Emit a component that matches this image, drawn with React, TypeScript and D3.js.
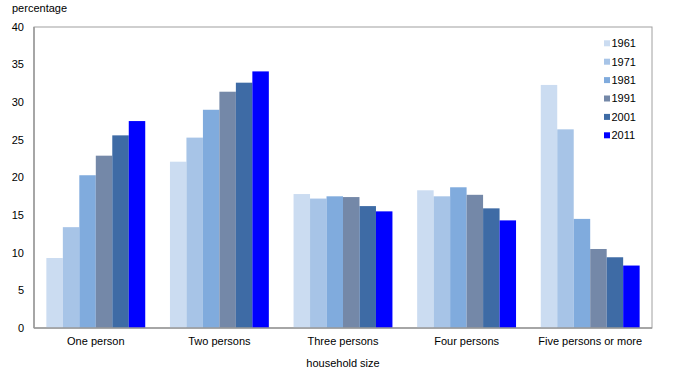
import React from "react";
import * as d3 from "d3";

const categories = ["One person", "Two persons", "Three persons", "Four persons", "Five persons or more"];
const years = ["1961", "1971", "1981", "1991", "2001", "2011"];
const v1961 = [9.3, 22.1, 17.8, 18.3, 32.3];
const v1971 = [13.4, 25.3, 17.2, 17.5, 26.4];
const v1981 = [20.3, 29.0, 17.5, 18.7, 14.5];
const v1991 = [22.9, 31.4, 17.4, 17.7, 10.5];
const v2001 = [25.6, 32.6, 16.2, 15.9, 9.4];
const v2011 = [27.5, 34.1, 15.5, 14.3, 8.3];
const seriesValues = [v1961, v1971, v1981, v1991, v2001, v2011];
const colors = ["#cbdcf1", "#a7c4e7", "#80abdd", "#7488a8", "#3e6ba5", "#0000ff"];
const yTicks = [0, 5, 10, 15, 20, 25, 30, 35, 40];

export default function App() {
  const W = 675, H = 376;
  const left = 34, right = 652, top = 27, bottom = 328;
  const x0 = d3.scaleBand<string>().domain(categories).range([left, right]).paddingInner(0.2).paddingOuter(0.1);
  const x1 = d3.scaleBand<string>().domain(years).range([0, x0.bandwidth()]);
  const y = d3.scaleLinear().domain([0, 40]).range([bottom, top]);
  const font = "'Liberation Sans', Arial, sans-serif";
  return (
    <svg width={W} height={H} style={{ position: "absolute", left: 0, top: 0 }} fontFamily={font}>
      <rect x={0} y={0} width={W} height={H} fill="#fff" />
      <rect x={left} y={top} width={right - left} height={bottom - top} fill="none" stroke="#a0a0a0" strokeWidth={1} />
      {categories.map((c, ci) =>
        years.map((yr, si) => {
          const v = seriesValues[si][ci];
          return (
            <rect key={c + yr} x={(x0(c) ?? 0) + (x1(yr) ?? 0)} y={y(v)} width={x1.bandwidth()} height={bottom - y(v)} fill={colors[si]} />
          );
        })
      )}
      <line x1={left} x2={left} y1={top} y2={bottom} stroke="#999" strokeWidth={1.5} />
      <line x1={left} x2={right} y1={bottom} y2={bottom} stroke="#999" strokeWidth={1.5} />
      {yTicks.map((t) => (
        <text key={t} x={24} y={y(t)} dy="0.35em" textAnchor="end" fontSize={11} fill="#000">{t}</text>
      ))}
      {categories.map((c) => (
        <text key={c} x={(x0(c) ?? 0) + x0.bandwidth() / 2} y={341} dy="0.35em" textAnchor="middle" fontSize={11} fill="#000">{c}</text>
      ))}
      <text x={12} y={8} dy="0.35em" fontSize={11} fill="#000">percentage</text>
      <text x={343} y={363} dy="0.35em" textAnchor="middle" fontSize={11} fill="#000">household size</text>
      {years.map((yr, i) => (
        <g key={yr} transform={`translate(604, ${43.3 + i * 18.4})`}>
          <rect x={0} y={-3} width={6} height={6} fill={colors[i]} />
          <text x={7.5} y={0} dy="0.35em" fontSize={11} fill="#000">{yr}</text>
        </g>
      ))}
    </svg>
  );
}
